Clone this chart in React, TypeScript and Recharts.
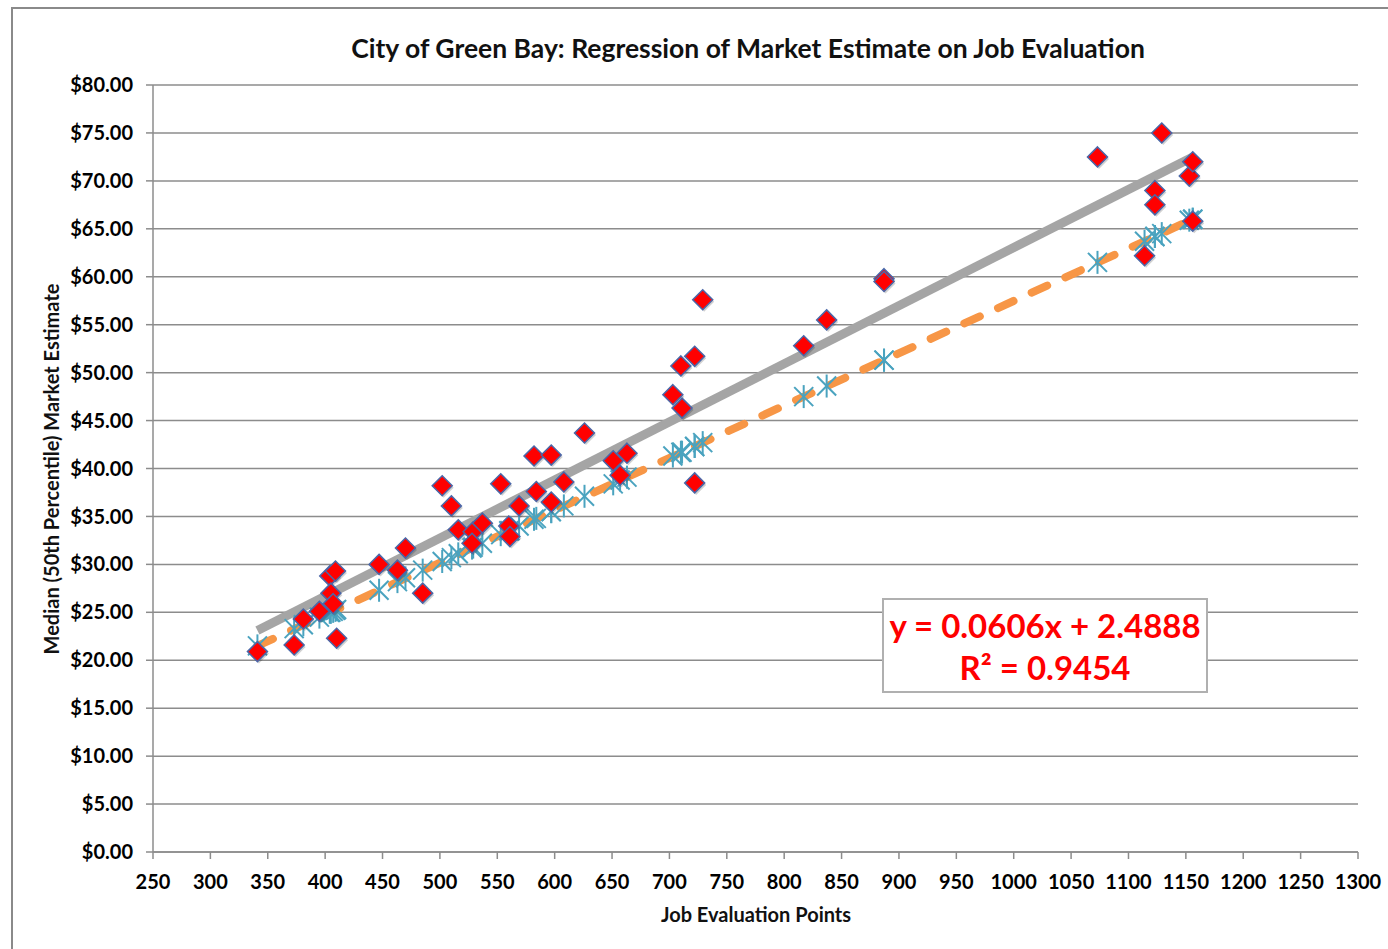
import React from 'react';
import { ScatterChart, Scatter, XAxis, YAxis, CartesianGrid } from 'recharts';

const jobPoints = [341, 373, 381, 395, 404, 409, 405, 407, 410, 447, 463, 470, 485, 502, 510, 516, 529, 537, 528, 553, 560, 561, 569, 582, 584, 597, 597, 608, 626, 651, 657, 663, 703, 710, 711, 722, 722, 729, 817, 837, 887, 887, 1073, 1114, 1123, 1123, 1129, 1153, 1156, 1156];
const marketEstimate = [20.9, 21.6, 24.3, 25.1, 28.8, 29.3, 27.0, 25.9, 22.3, 30.0, 29.4, 31.7, 27.0, 38.2, 36.1, 33.6, 33.4, 34.3, 32.2, 38.4, 34.0, 32.9, 36.1, 41.3, 37.6, 41.4, 36.5, 38.6, 43.7, 40.8, 39.3, 41.6, 47.7, 50.7, 46.3, 51.7, 38.5, 57.6, 52.8, 55.5, 59.8, 59.5, 72.5, 62.2, 69.0, 67.5, 75.0, 70.5, 72.0, 65.8];
const policyValue = [21.5, 23.3, 23.7, 24.5, 25.0, 25.2, 25.0, 25.1, 25.3, 27.3, 28.2, 28.6, 29.4, 30.3, 30.7, 31.1, 31.8, 32.2, 31.7, 33.1, 33.5, 33.5, 34.0, 34.7, 34.8, 35.5, 35.5, 36.1, 37.1, 38.4, 38.8, 39.1, 41.3, 41.7, 41.7, 42.3, 42.3, 42.7, 47.5, 48.6, 51.3, 51.3, 61.5, 63.7, 64.2, 64.2, 64.5, 65.9, 66.0, 66.0];

const trendX = [341, 1156];
const trendY = [23.1, 72.5];
const policyLineX = [341, 1156];
const policyLineY = [21.5, 66.0];

const xTicks = [250, 300, 350, 400, 450, 500, 550, 600, 650, 700, 750, 800, 850, 900, 950, 1000, 1050, 1100, 1150, 1200, 1250, 1300];
const yTicks = [0, 5, 10, 15, 20, 25, 30, 35, 40, 45, 50, 55, 60, 65, 70, 75, 80];

const marketData = jobPoints.map((x, i) => ({ x, y: marketEstimate[i] }));
const policyData = jobPoints.map((x, i) => ({ x, y: policyValue[i] }));
const trendData = trendX.map((x, i) => ({ x, y: trendY[i] }));
const policyLineData = policyLineX.map((x, i) => ({ x, y: policyLineY[i] }));

const FONT = 'Lato, "Open Sans", sans-serif';

const Diamond = (props: any) => {
  const { cx, cy } = props;
  if (cx == null || cy == null) return <g />;
  const r = 10;
  return (
    <g>
      <polygon
        points={`${cx + 1.5},${cy - r + 2} ${cx + r + 1.5},${cy + 2} ${cx + 1.5},${cy + r + 2} ${cx - r + 1.5},${cy + 2}`}
        fill="rgba(0,0,0,0.18)"
      />
      <polygon
        points={`${cx},${cy - r} ${cx + r},${cy} ${cx},${cy + r} ${cx - r},${cy}`}
        fill="#FF0000"
        stroke="#4a67a8"
        strokeWidth={1.5}
      />
    </g>
  );
};

const Asterisk = (props: any) => {
  const { cx, cy } = props;
  if (cx == null || cy == null) return <g />;
  const d = 9.5;
  const v = 11.5;
  return (
    <g stroke="#4aa3bf" strokeWidth={2} strokeLinecap="butt">
      <line x1={cx - d} y1={cy - d} x2={cx + d} y2={cy + d} />
      <line x1={cx - d} y1={cy + d} x2={cx + d} y2={cy - d} />
      <line x1={cx} y1={cy - v} x2={cx} y2={cy + v} />
    </g>
  );
};

const NoShape = () => <g />;

export default function App() {
  return (
    <div style={{ position: 'absolute', left: 0, top: 0, width: 1388, height: 949, background: '#fff', overflow: 'hidden', fontFamily: FONT }}>
      <div style={{ position: 'absolute', left: 11, top: 7, width: 1400, height: 980, border: '2px solid #8a8a8a', boxSizing: 'border-box' }} />
      <div style={{ position: 'absolute', left: 0, top: 0 }}>
        <ScatterChart width={1388} height={949} margin={{ top: 85, right: 30, bottom: 0, left: 0 }}>
          <CartesianGrid horizontal vertical={false} stroke="#8c8c8c" strokeWidth={1.5} horizontalValues={yTicks} />
          <XAxis
            type="number"
            dataKey="x"
            domain={[250, 1300]}
            ticks={xTicks}
            interval={0}
            height={97}
            allowDataOverflow
            stroke="#8c8c8c"
            strokeWidth={1.5}
            tickSize={7}
            tickMargin={16}
            tick={{ fontSize: 20, fontWeight: 700, fill: '#000', fontFamily: FONT }}
          />
          <YAxis
            type="number"
            dataKey="y"
            domain={[0, 80]}
            ticks={yTicks}
            interval={0}
            width={153}
            allowDataOverflow
            stroke="#8c8c8c"
            strokeWidth={1.5}
            tickSize={7}
            tickMargin={13}
            tickFormatter={(v: number) => `$${v.toFixed(2)}`}
            tick={{ fontSize: 20, fontWeight: 700, fill: '#000', fontFamily: FONT }}
          />
          <Scatter
            data={trendData}
            line={{ stroke: '#a5a5a5', strokeWidth: 9 }}
            shape={NoShape}
            isAnimationActive={false}
            legendType="none"
          />
          <Scatter
            data={policyLineData}
            line={{ stroke: '#f79646', strokeWidth: 8, strokeDasharray: '17 20', strokeLinecap: 'round' }}
            shape={NoShape}
            isAnimationActive={false}
            legendType="none"
          />
          <Scatter data={policyData} shape={Asterisk} isAnimationActive={false} legendType="none" />
          <Scatter data={marketData} shape={Diamond} isAnimationActive={false} legendType="none" />
        </ScatterChart>
      </div>
      <div style={{ position: 'absolute', left: 0, width: 1496, top: 32, textAlign: 'center', fontSize: 26.5, fontWeight: 700, color: '#111', whiteSpace: 'nowrap' }}>
        City of Green Bay: Regression of Market Estimate on Job Evaluation
      </div>
      <div style={{ position: 'absolute', left: 556, width: 400, top: 902, textAlign: 'center', fontSize: 20, fontWeight: 700, color: '#111' }}>
        Job Evaluation Points
      </div>
      <div style={{ position: 'absolute', left: 51, top: 469, width: 0, height: 0 }}>
        <div style={{ position: 'absolute', left: -250, top: -12, width: 500, textAlign: 'center', transform: 'rotate(-90deg)', fontSize: 20, fontWeight: 700, color: '#111', whiteSpace: 'nowrap', lineHeight: '24px' }}>
          Median (50th Percentile) Market Estimate
        </div>
      </div>
      <div style={{ position: 'absolute', left: 882, top: 598, width: 326, height: 95, border: '2px solid #b0b0b0', boxSizing: 'border-box', background: '#fff', color: '#ff0000', fontWeight: 700, fontSize: 33, textAlign: 'center', lineHeight: '42px', paddingTop: 4 }}>
        <div>y = 0.0606x + 2.4888</div>
        <div>R² = 0.9454</div>
      </div>
    </div>
  );
}
